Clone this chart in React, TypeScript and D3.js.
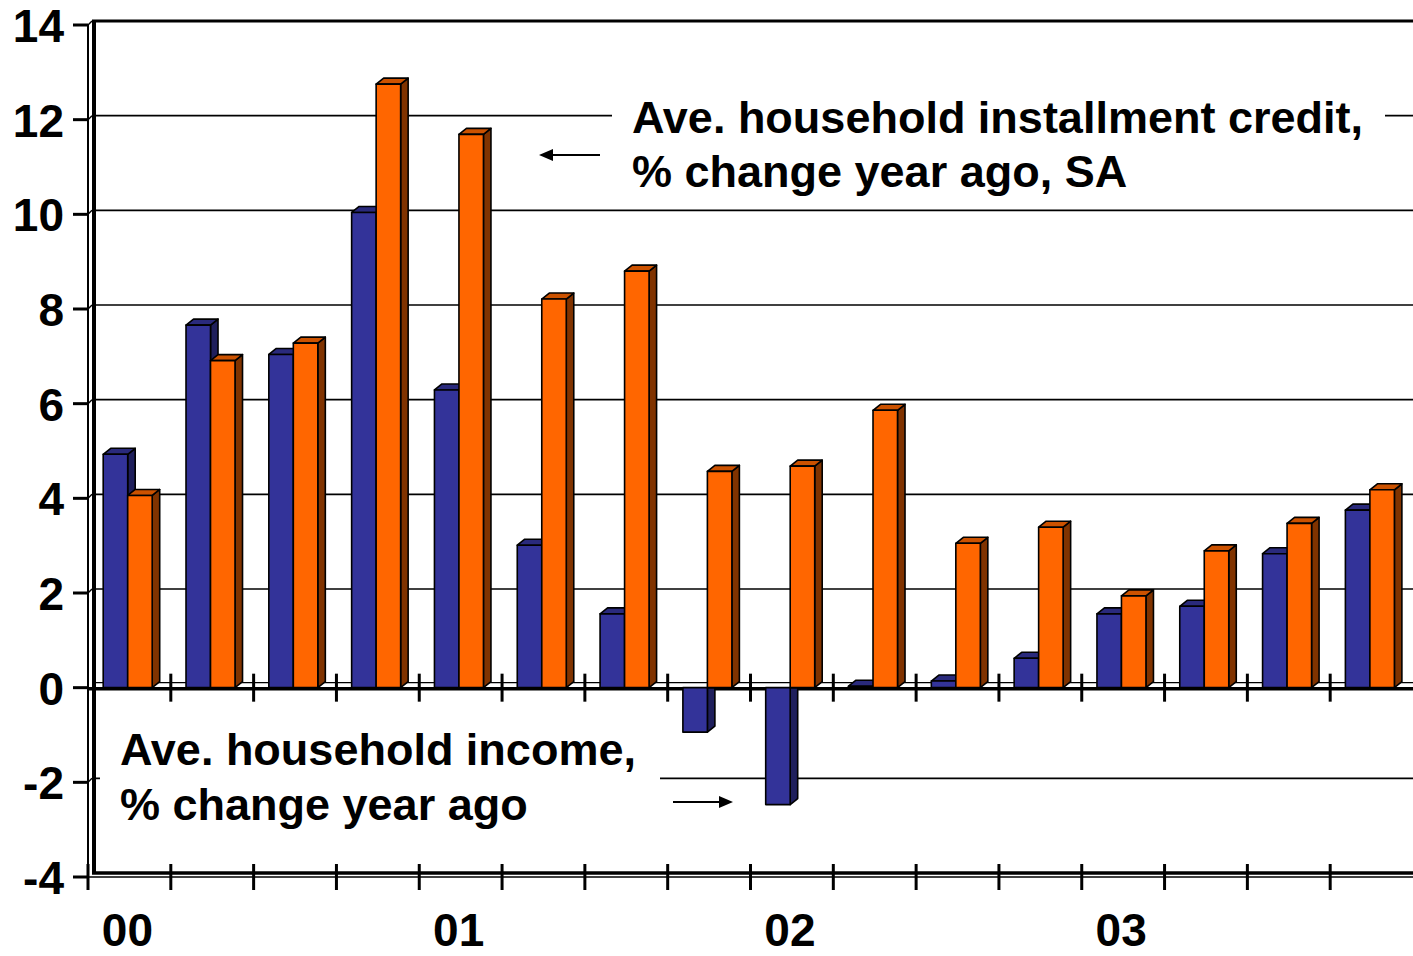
import React from 'react';
import * as d3 from 'd3';

// Quarterly observations, 2000Q1 .. 2003Q4
const quarters = [
  '2000Q1', '2000Q2', '2000Q3', '2000Q4',
  '2001Q1', '2001Q2', '2001Q3', '2001Q4',
  '2002Q1', '2002Q2', '2002Q3', '2002Q4',
  '2003Q1', '2003Q2', '2003Q3', '2003Q4',
];
// Ave. household income, % change year ago
const incomeChange = [4.93, 7.66, 7.04, 10.04, 6.29, 3.01, 1.56, -0.94, -2.47, 0.03, 0.14, 0.62, 1.56, 1.72, 2.83, 3.75];
// Ave. household installment credit, % change year ago, SA
const creditChange = [4.06, 6.91, 7.28, 12.75, 11.69, 8.21, 8.8, 4.57, 4.68, 5.86, 3.05, 3.39, 1.94, 2.89, 3.47, 4.18];

const yearLabels = ['00', '01', '02', '03'];
const yearStartQuarters = ['2000Q1', '2001Q1', '2002Q1', '2003Q1'];
const yTicks = [14, 12, 10, 8, 6, 4, 2, 0, -2, -4];

const W = 1413;
const H = 956;
const X0 = 88;
const X1 = 1413;
const FONT = '"Liberation Sans", Arial, Helvetica, sans-serif';

// 3-D offsets: bar depth and back-wall depth
const DX = 7.5;
const DY = -6;
const WDX = 4;
const WDY = -4;

const palette = {
  income: { front: '#333399', top: '#2a2a7c', side: '#1f1f5c' },
  credit: { front: '#FF6600', top: '#CC5200', side: '#803300' },
};

type SeriesKey = 'income' | 'credit';

export default function App() {
  const x = d3.scaleBand<string>().domain(quarters).range([X0, X1]);
  const y = d3.scaleLinear().domain([-4, 14]).range([877, 25]);
  const sub = d3.scaleBand<string>().domain(['income', 'credit']).range([15.2, 64.2]);
  const y0 = y(0);
  const bw = sub.bandwidth();

  const bar = (q: string, key: SeriesKey, v: number) => {
    const c = palette[key];
    const xa = (x(q) as number) + (sub(key) as number);
    const xb = xa + bw;
    const yv = y(v);
    const stroke = { stroke: '#000', strokeWidth: 1.6, strokeLinejoin: 'round' as const };
    if (v >= 0) {
      const side = [[xb, yv], [xb + DX, yv + DY], [xb + DX, y0 + DY], [xb, y0]];
      const top = [[xa, yv], [xa + DX, yv + DY], [xb + DX, yv + DY], [xb, yv]];
      return (
        <g key={q + key}>
          <polygon points={side.map((p) => p.join(',')).join(' ')} fill={c.side} {...stroke} />
          <polygon points={top.map((p) => p.join(',')).join(' ')} fill={c.top} {...stroke} />
          <rect x={xa} y={yv} width={bw} height={Math.max(0.01, y0 - yv)} fill={c.front} {...stroke} />
        </g>
      );
    }
    const side = [[xb, y0], [xb + DX, y0], [xb + DX, yv + DY], [xb, yv]];
    return (
      <g key={q + key}>
        <polygon points={side.map((p) => p.join(',')).join(' ')} fill={c.side} {...stroke} />
        <rect x={xa} y={y0} width={bw} height={yv - y0} fill={c.front} {...stroke} />
      </g>
    );
  };

  const boundaries = quarters.map((q) => x(q) as number);

  return (
    <svg
      width={W}
      height={H}
      viewBox={`0 0 ${W} ${H}`}
      style={{ position: 'absolute', left: 0, top: 0, background: '#fff' }}
      fontFamily={FONT}
    >
      <rect x={0} y={0} width={W} height={H} fill="#fff" />

      {/* back wall gridlines */}
      {yTicks
        .filter((t) => t !== 14 && t !== 0 && t !== -4)
        .map((t) => (
          <g key={'g' + t}>
            <line x1={X0 + WDX} x2={X1} y1={y(t) + WDY} y2={y(t) + WDY} stroke="#000" strokeWidth={1.6} />
            <line x1={X0} x2={X0 + WDX} y1={y(t)} y2={y(t) + WDY} stroke="#000" strokeWidth={1.4} />
          </g>
        ))}

      {/* wall frame */}
      <line x1={X0 + WDX} x2={X1} y1={y(14) + WDY} y2={y(14) + WDY} stroke="#000" strokeWidth={3} />
      <line x1={X0} x2={X0 + WDX} y1={y(14)} y2={y(14) + WDY} stroke="#000" strokeWidth={1.4} />
      <line x1={X0 + WDX + 2} x2={X0 + WDX + 2} y1={y(14) + WDY} y2={y(-4) + WDY} stroke="#000" strokeWidth={4} />
      <line x1={X0} x2={X0} y1={y(14)} y2={y(-4) + 13} stroke="#000" strokeWidth={2} />
      <line x1={X0 + WDX} x2={X1} y1={y(-4) + WDY} y2={y(-4) + WDY} stroke="#000" strokeWidth={3.5} />
      <line x1={X0} x2={X1} y1={y(-4)} y2={y(-4)} stroke="#000" strokeWidth={1.6} />

      {/* floor at zero */}
      <line x1={X0 + WDX} x2={X1} y1={y0 + WDY - 1} y2={y0 + WDY - 1} stroke="#000" strokeWidth={1.2} />
      <line x1={X0} x2={X1} y1={y0 + 1} y2={y0 + 1} stroke="#000" strokeWidth={3.5} />

      {/* category ticks */}
      {boundaries.map((bx, i) => (
        <g key={'t' + i}>
          {i > 0 && (
            <line x1={bx} x2={bx} y1={y0 - 14} y2={y0 + 14} stroke="#000" strokeWidth={3} />
          )}
          <line x1={bx} x2={bx} y1={y(-4) - 13} y2={y(-4) + 13} stroke="#000" strokeWidth={3} />
        </g>
      ))}

      {/* value axis ticks and labels */}
      {yTicks.map((t) => (
        <g key={'y' + t}>
          <line x1={X0 - 15} x2={X0} y1={y(t)} y2={y(t)} stroke="#000" strokeWidth={3} />
          <text
            x={64}
            y={y(t) + 17}
            textAnchor="end"
            fontSize={46}
            fontWeight="bold"
            fill="#000"
          >
            {t}
          </text>
        </g>
      ))}

      {/* bars */}
      {quarters.map((q, i) => (
        <g key={'b' + q}>
          {bar(q, 'income', incomeChange[i])}
          {bar(q, 'credit', creditChange[i])}
        </g>
      ))}

      {/* year labels */}
      {yearLabels.map((lab, i) => (
        <text
          key={lab}
          x={(x(yearStartQuarters[i]) as number) + x.bandwidth() / 2 - 2}
          y={946}
          textAnchor="middle"
          fontSize={46}
          fontWeight="bold"
          fill="#000"
        >
          {lab}
        </text>
      ))}

      {/* series annotations */}
      <rect x={612} y={95} width={773} height={102} fill="#fff" />
      <text x={632} y={133} fontSize={45} fontWeight="bold" fill="#000">
        Ave. household installment credit,
      </text>
      <text x={632} y={187} fontSize={45} fontWeight="bold" fill="#000">
        % change year ago, SA
      </text>
      <line x1={600} x2={550} y1={155} y2={155} stroke="#000" strokeWidth={2} />
      <polygon points="539,155 553,149 553,161" fill="#000" />

      <rect x={100} y={725} width={560} height={105} fill="#fff" />
      <text x={120} y={765} fontSize={45} fontWeight="bold" fill="#000">
        Ave. household income,
      </text>
      <text x={120} y={820} fontSize={45} fontWeight="bold" fill="#000">
        % change year ago
      </text>
      <line x1={673} x2={722} y1={802} y2={802} stroke="#000" strokeWidth={2} />
      <polygon points="733,802 719,796 719,808" fill="#000" />
    </svg>
  );
}
